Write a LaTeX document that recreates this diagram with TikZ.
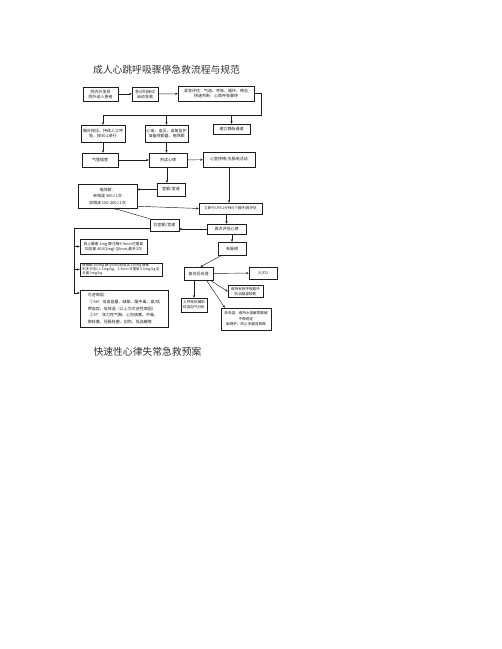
\documentclass[tikz,border=0pt]{standalone}
\usepackage{fontspec}
\newfontfamily\cjk{Noto Sans CJK SC}
\usetikzlibrary{arrows.meta}
\definecolor{ink}{RGB}{30,30,30}
\definecolor{titleink}{RGB}{50,50,50}
\tikzset{
  bx/.style={draw=ink, line width=0.45pt, inner sep=0pt, align=center, text=ink,
    font=\cjk\fontsize{4}{5}\selectfont},
  conn/.style={draw=ink, line width=0.45pt},
  arr/.style={draw=ink, line width=0.45pt, -{Stealth[length=2.6pt,width=2.2pt]}},
  ttl/.style={text=titleink, font=\cjk\fontsize{9.8}{11}\selectfont, inner sep=0pt}
}
\begin{document}
\begin{tikzpicture}[x=1pt,y=-1pt]
\useasboundingbox (0,0) rectangle (502,649);
\fill[white] (0,0) rectangle (502,649);

\node[ttl] (t1) at (166.5,70) {成人心跳呼吸骤停急救流程与规范};
\node[ttl] (t2) at (147.5,352) {快速性心律失常急救预案};

% row 1
\node[bx, minimum width=35, minimum height=14] (b1) at (100.5,94) {院内外发现\\院外送入患者};
\node[bx, minimum width=26, minimum height=14] (b2) at (145,94) {急诊科接诊\\启动急救};
\node[bx, minimum width=76, minimum height=15] (b3) at (216,93.5) {紧急评估：气道、呼吸、循环、神志\\快速判断：心跳呼吸骤停};

% row 2
\node[bx, minimum width=44, minimum height=17] (r2a) at (103,133.5) {胸外按压、持续人工呼\\吸，按30:2进行};
\node[bx, minimum width=43, minimum height=17] (r2b) at (166.5,133.5) {心电、血压、血氧监护\\准备除颤器、电除颤};
\node[bx, minimum width=37, minimum height=10] (r2c) at (231.5,129) {建立静脉通道};

% row 3
\node[bx, minimum width=36, minimum height=14] (r3a) at (100,160) {气管插管};
\node[bx, minimum width=38, minimum height=14] (r3b) at (168,160) {判读心律};
\node[bx, minimum width=52, minimum height=15] (r3c) at (229,159.5) {心室停搏/无脉电活动};

\node[bx, minimum width=28, minimum height=13] (vt) at (171,189.5) {室颤/室速};
\node[bx, minimum width=59, minimum height=24, font=\cjk\fontsize{4}{6.5}\selectfont] (big) at (107.5,196) {电除颤：\\单相波 360J 1次\\双相波 150-200J 1次};
\node[bx, minimum width=63, minimum height=11, font=\cjk\fontsize{3.5}{4.5}\selectfont] (cpr) at (230.5,208.5) {立即行CPR 2分钟(5个循环)再评估};
\node[bx, minimum width=39, minimum height=10] (reeval) at (226.5,229) {再次评估心律};
\node[bx, minimum width=29, minimum height=12] (vf) at (164.5,225) {仍室颤/室速};

% drugs
\node[bx, minimum width=67, minimum height=15, font=\cjk\fontsize{3.8}{5}\selectfont] (epi) at (113.5,246.5) {肾上腺素 1mg 静注每3-5min可重复\\加压素 40U(1mg) Q5min,最多3次};
\node[bx, minimum width=82, minimum height=13, align=left, font=\cjk\fontsize{3.4}{4.2}\selectfont] (amio) at (121,269.5) {胺碘酮 300mg 静注5min后追加 150mg 静推\\利多卡因1-1.5mg/kg，3-5min 可重复 0.5mg/kg 至\\总量 3mg/kg};
\node[bx, minimum width=88, minimum height=37, align=left, font=\cjk\fontsize{4}{6.8}\selectfont] (rev) at (124,308.5) {可逆病因：\\\ \ ①5H：低血容量、缺氧、酸中毒、高/低\\钾血症、低体温（以上为可逆性病因）\\\ \ ②5T：张力性气胸、心包填塞、中毒、\\肺栓塞、冠脉栓塞、创伤、低血糖等};

% right lower branch
\node[bx, minimum width=28, minimum height=13] (pulse) at (232,248.5) {有脉搏};
\node[bx, minimum width=29, minimum height=13] (post) at (198.5,273.5) {复苏后处理};
\node[bx, minimum width=28, minimum height=12] (icu) at (263,273) {入ICU};
\node[bx, minimum width=35, minimum height=12, font=\cjk\fontsize{3.6}{4.6}\selectfont] (maint) at (245.5,291.5) {维持有效呼吸循环\\防治脑部缺氧};
\node[bx, minimum width=26, minimum height=14, font=\cjk\fontsize{3.6}{5}\selectfont] (vent) at (194,305) {上呼吸机辅助\\检查血气分析};
\node[bx, minimum width=50, minimum height=22, font=\cjk\fontsize{3.6}{5.6}\selectfont] (hypo) at (246,319) {亚低温、维持水电解质酸碱\\平衡稳定\\脑保护、防止多器官衰竭};

% junctions
\coordinate (j1) at (261,93.5);
\coordinate (j2) at (261,115);
\coordinate (sp1) at (74,228);
\coordinate (sp2) at (74,293);

% connectors row 1
\draw[arr] (b1) -- (b2);
\draw[arr] (b2) -- (b3);
\draw[conn] (b3.east) -- (j1) -- (j2) -- (r2a.north |- j2);
\draw[arr] (r2a.north |- j2) -- (r2a.north);
\draw[arr] (r2b.north |- j2) -- (r2b.north);
\draw[arr] (r2c.north |- j2) -- (r2c.north);

% row 2 -> row 3
\draw[arr] (r2a.south) -- (r2a.south |- r3a.north);
\draw[arr] (r2b.south) -- (r2b.south |- r3b.north);
\draw[arr] (r3a) -- (r3b);
\draw[arr] (r3b) -- (r3c);

% middle
\draw[arr] (r3b.south -| vt.north) ++(-4,0) coordinate (vtin) -- (vtin |- vt.north);
\draw[arr] (vt.west) -- (vt.west -| big.east);
\draw[arr] ([yshift=2pt]big.south east) -- (cpr.west);
\draw[arr] (r3c.south) -- (r3c.south |- cpr.north);
\draw[arr] (cpr.south -| reeval.north) -- (reeval.north);
\draw[arr] (reeval.west) -- (reeval.west -| vf.east);
\draw[arr] (vf.north west) -- ([xshift=6pt]big.south);

% spine to drugs
\draw[conn] (vf.west |- sp1) -- (sp1) -- (sp2);
\draw[arr] (sp1 |- epi.west) -- (epi.west);
\draw[arr] (sp1 |- amio.west) -- (amio.west);
\draw[arr] (sp2) -- (sp2 -| rev.west);

% post resuscitation
\draw[arr] (reeval.south -| pulse.north) -- (pulse.north);
\draw[arr] ([xshift=4pt]pulse.south west) -- ([xshift=2pt]post.north);
\draw[arr] (post) -- (icu);
\draw[arr] ([xshift=-3pt]post.south east) -- (maint.west);
\draw[arr] (post.south -| vent.north) -- (vent.north);
\draw[arr] ([xshift=8pt]post.south) -- ([xshift=4pt]hypo.north west);
\end{tikzpicture}
\end{document}
